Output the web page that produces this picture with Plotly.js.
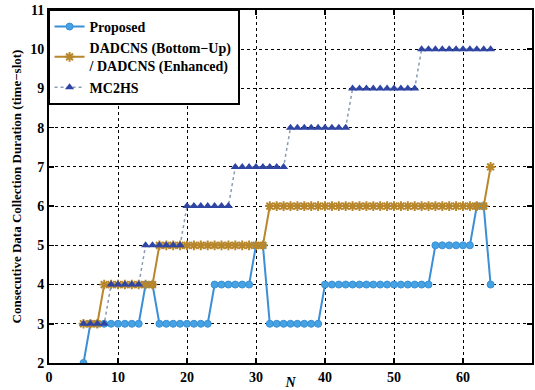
<!DOCTYPE html>
<html><head><meta charset="utf-8">
<script src="https://cdn.plot.ly/plotly-3.0.1.min.js"></script>
<style>html,body{margin:0;padding:0;background:#fff}#c{width:535px;height:390px}</style>
</head><body><div id="c"></div>
<script>
const N = [5,6,7,8,9,10,11,12,13,14,15,16,17,18,19,20,21,22,23,24,25,26,27,28,29,30,31,32,33,34,35,36,37,38,39,40,41,42,43,44,45,46,47,48,49,50,51,52,53,54,55,56,57,58,59,60,61,62,63,64];
const proposed = [2,3,3,3,3,3,3,3,3,4,4,3,3,3,3,3,3,3,3,4,4,4,4,4,4,5,5,3,3,3,3,3,3,3,3,4,4,4,4,4,4,4,4,4,4,4,4,4,4,4,4,5,5,5,5,5,5,6,6,4];
const dadcns = [3,3,3,4,4,4,4,4,4,4,4,5,5,5,5,5,5,5,5,5,5,5,5,5,5,5,5,6,6,6,6,6,6,6,6,6,6,6,6,6,6,6,6,6,6,6,6,6,6,6,6,6,6,6,6,6,6,6,6,7];
const mc2hs = [3,3,3,3,4,4,4,4,4,5,5,5,5,5,5,6,6,6,6,6,6,6,7,7,7,7,7,7,7,7,8,8,8,8,8,8,8,8,8,9,9,9,9,9,9,9,9,9,9,10,10,10,10,10,10,10,10,10,10,10];
const names = ['Proposed','DADCNS (Bottom\u2212Up)<br>/ DADCNS (Enhanced)','MC2HS'];
const xTicks = [0,10,20,30,40,50,60,70];
const yTicks = [2,3,4,5,6,7,8,9,10,11];

const F = '"Liberation Serif", "Times New Roman", Times, serif';
const traces = [
  {x:N, y:proposed, name:names[0], mode:'lines+markers', line:{color:'#3a8fd6', width:2}, marker:{symbol:'circle', size:7, color:'#45a3e3', line:{color:'#3a8fd6', width:1}}},
  {x:N, y:dadcns, name:names[1], mode:'lines+markers', line:{color:'#b8862b', width:2}, marker:{symbol:'asterisk-open', size:8, line:{color:'#b8862b', width:2}}},
  {x:N, y:mc2hs, name:names[2], mode:'lines+markers', line:{color:'#8a9bb0', width:1.5, dash:'dot'}, marker:{symbol:'triangle-up', size:8, color:'#2e45a3'}}
];
const axisCommon = {showline:true, linecolor:'#000', linewidth:2, mirror:'ticks', ticks:'inside', ticklen:5, tickwidth:1.5, tickcolor:'#000',
  showgrid:true, gridcolor:'#000', griddash:'dot', gridwidth:1, zeroline:false, tickfont:{family:F, size:14, color:'#000', weight:'bold'}};
const layout = {
  width:535, height:390, margin:{l:49, r:3, t:10, b:27},
  paper_bgcolor:'#fff', plot_bgcolor:'#fff', font:{family:F, color:'#000'},
  xaxis:Object.assign({}, axisCommon, {range:[0,70], tickvals:xTicks, title:{text:'<i>N</i>', font:{family:F, size:14, weight:'bold'}, standoff:4}}),
  yaxis:Object.assign({}, axisCommon, {range:[2,11], tickvals:yTicks, title:{text:'Consecutive Data Collection Duration (time\u2212slot)', font:{family:F, size:13, weight:'bold'}, standoff:6}}),
  showlegend:true,
  legend:{x:-0.003, y:1.003, xanchor:'left', yanchor:'top', bgcolor:'#fff', bordercolor:'#000', borderwidth:2, font:{family:F, size:14, weight:'bold'}, tracegroupgap:0, itemwidth:30}
};
Plotly.newPlot('c', traces, layout, {displayModeBar:false, staticPlot:true});
</script></body></html>
